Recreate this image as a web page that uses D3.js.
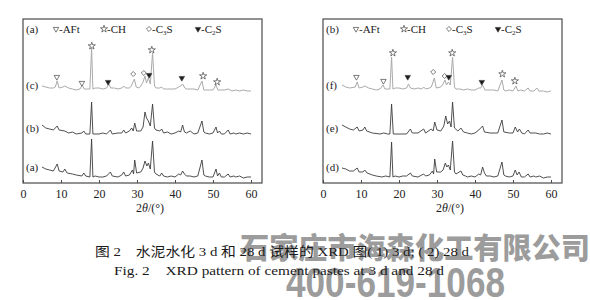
<!DOCTYPE html>
<meta charset="utf-8">

<!-- Load d3.js -->
<script src="https://d3js.org/d3.v7.min.js"></script>
<style>
  body { margin: 0; background: #fff; }
</style>

<!-- Create a div where the graph will take place -->
<div id="my_dataviz"></div>

<script>

// ---- values: [2theta (deg), stacked intensity (a.u.)] ----
// 3 d panel
var curveA = [[5,16],[6,14],[7,13],[8,12],[9,19],[9.5,12],[10.5,11],[11,14],[11.6,10],[13,9],[14,8],[15.5,7],[16,10],[16.5,7],[17.6,6],[18.05,44],[18.4,6],[19,7],[20,6],[21,6],[22,7],[23,11],[23.5,7],[25,6],[26,8],[26.5,11],[27,7],[28,8],[28.8,13],[29.1,9],[29.4,23],[29.9,10],[31,11],[31.6,15],[32.1,22],[32.6,17],[33,20],[33.5,14],[34.1,42],[34.6,11],[35,9],[36,7],[36.5,10],[37,7],[38,6],[39,7],[40,6],[41,9],[41.5,8],[42,12],[42.5,9],[43,7],[44,7],[45,6],[46,7],[47.1,23],[47.6,8],[48,7],[49,6],[50,6],[50.8,14],[51.2,7],[51.7,10],[52.2,6],[53,6],[54,9],[54.5,6],[55.5,7],[56,6],[57,7],[58,5],[59,6],[60,6]];
var curveB = [[5,58],[6,55],[7,54],[8,53],[9,57],[9.5,53],[11,52],[12,50],[13,51],[14,49],[15.5,50],[16,52],[16.5,49],[17.6,49],[18.05,81],[18.4,49],[20,49],[21,50],[22,49],[23,53],[23.5,49],[25,50],[26,50],[26.5,53],[27,50],[28,52],[28.6,55],[29,52],[29.4,60],[29.9,52],[31,52],[31.6,56],[32.1,71],[32.5,65],[33,62],[33.5,57],[34.1,79],[34.6,55],[35,53],[36,52],[36.5,54],[37,50],[38,51],[39,49],[40,50],[41,52],[41.5,51],[42,58],[42.5,51],[43,50],[44,52],[45,49],[46,50],[47.1,62],[47.6,51],[48,50],[49,49],[50,50],[50.8,56],[51.2,50],[51.7,52],[52.2,49],[53,49],[54,53],[54.5,49],[55.5,50],[56,49],[57,50],[58,49],[59,50],[60,49]];
var curveC = [[5,97],[6,96],[7,95],[8,95],[8.5,96],[9,102],[9.5,95],[10.5,96],[11,97],[12,95],[13,94],[14,93],[15,94],[15.6,98],[16.1,94],[17,94],[17.6,94],[18.05,135],[18.4,94],[19,95],[20,95],[21,94],[22,95],[22.6,99],[23.1,95],[24,95],[25,94],[26,95],[26.5,97],[27,95],[28,95],[28.5,97],[29.3,104],[29.8,96],[30.5,95],[31,97],[31.6,101],[32.1,107],[32.5,100],[33,105],[33.5,99],[34.1,130],[34.6,97],[35,95],[36,95],[36.5,96],[37,94],[38,94],[39,94],[40,94],[41,96],[41.5,97],[42,99],[42.6,95],[43,94],[44,94],[45,94],[46,93],[47.1,102],[47.6,93],[48,93],[49,93],[50,93],[50.8,98],[51.3,93],[52,93],[53,93],[54,94],[55,92],[56,93],[57,92],[58,93],[59,92],[60,92]];
// 28 d panel
var curveD = [[5,15],[6,14],[7,12],[8,12],[9,15],[9.5,11],[10.5,11],[11,13],[11.6,10],[13,8],[14,7],[15.5,6],[16.5,7],[17.6,6],[18.05,41],[18.4,6],[19,7],[20,6],[21,7],[22,7],[23,10],[23.5,7],[25,6],[26,8],[26.5,9],[27,7],[28,8],[28.8,12],[29.1,9],[29.4,24],[29.9,11],[31,11],[31.6,13],[32.2,20],[32.6,16],[33,18],[33.5,13],[34.1,42],[34.6,11],[35,9],[36.3,12],[36.8,8],[37.5,7],[38,6],[39,7],[40,6],[41,9],[41.5,8],[42,16],[42.5,10],[43,7],[44,7],[45,6],[46,7],[47.1,21],[47.6,8],[48,7],[49,6],[50,7],[50.6,13],[51.1,8],[51.6,11],[52.2,6],[53,6],[54,9],[54.5,6],[55.5,7],[56,6],[57,7],[58,5],[59,6],[60,6]];
var curveE = [[5,58],[6,56],[7,54],[8,53],[9,56],[9.5,52],[10.5,53],[11,56],[11.5,52],[13,50],[15,49],[16,50],[17,49],[17.6,49],[18.05,79],[18.5,49],[20,49],[22,49],[23,54],[23.5,50],[25,50],[26.5,54],[27,50],[28.5,54],[29,52],[29.4,61],[30,53],[31,52],[31.8,57],[32.3,67],[32.8,59],[33.3,62],[33.7,56],[34.1,81],[34.6,55],[35.5,52],[36.3,55],[37,51],[38,50],[39,49],[40,50],[41,53],[42,57],[42.5,51],[44,50],[46,50],[47.1,63],[47.6,51],[49,50],[50,50],[50.6,56],[51.2,51],[51.7,54],[52.3,50],[53,49],[54,53],[54.5,50],[56,50],[57,49],[58,49],[59,50],[60,49]];
var curveF = [[5,98],[6,96],[7,95],[8.5,96],[9,101],[9.5,95],[10.5,96],[11,97],[12,95],[13,94],[14,93],[15,94],[15.8,98],[16.3,94],[17,94],[17.6,94],[18.05,126],[18.4,94],[19,95],[20,95],[21,94],[22,95],[22.5,99],[23,95],[24,94],[25,95],[26,94],[26.5,96],[27,94],[28,95],[28.5,96],[29.3,105],[29.8,95],[31,96],[31.6,99],[32.1,103],[32.5,98],[33,101],[33.5,98],[34.1,126],[34.6,96],[35,94],[36,94],[37,93],[38,94],[39,93],[40,93],[41,95],[41.5,95],[42,98],[42.6,93],[43,93],[44,93],[45,93],[46,92],[47.1,103],[47.6,93],[48,92],[49,93],[50,92],[50.8,97],[51.3,92],[52,93],[53,92],[54,95],[54.5,92],[55.5,92],[56.3,95],[56.8,92],[58,92],[59,91],[60,92]];

// phase markers: [phase, 2theta, intensity]
var markersLeft = [["aft",8.9,106],["aft",15.5,100],["ch",18.1,137],["c2s",22.4,101],["c3s",29,109],["c3s",31.8,110],["c2s",33.2,108],["ch",33.9,133],["c2s",41.8,105],["ch",47.4,107],["ch",51.1,101]];
var markersRight = [["aft",8.8,106],["aft",15.9,102],["ch",18.4,130],["c2s",22.3,106],["c3s",29,111],["c3s",32,107],["c2s",33.1,106],["ch",34,130],["c2s",41.8,101],["ch",47.2,109],["ch",50.5,102]];

var xTicks = [0, 10, 20, 30, 40, 50, 60];
var legendPhases = ["aft", "ch", "c3s", "c2s"];
var legendNames = [["-AFt", ""], ["-CH", ""], ["-C", "3"], ["-C", "2"]];
var panelTags = ["(a)", "(b)"];
var curveNamesLeft = ["(a)", "(b)", "(c)"];
var curveNamesRight = ["(d)", "(e)", "(f)"];

// ---- layout ----
var W = 590, H = 300;
var pw = 239, ph = 164;

var svg = d3.select("#my_dataviz")
  .append("svg")
    .attr("width", W)
    .attr("height", H)
    .style("font-family", "'Liberation Serif', 'Times New Roman', serif")

svg.append("rect").attr("width", W).attr("height", H).style("fill", "white")

var x = d3.scaleLinear().domain([0, 62.9]).range([0, pw])
var y = d3.scaleLinear().domain([0, 164]).range([ph, 0])

var line = d3.line()
  .x(function(d) { return x(d[0]) })
  .y(function(d) { return y(d[1]) })

function symbolFor(type, g) {
  var t = type == "ch" ? d3.symbolStar : (type == "c3s" ? d3.symbolDiamond2 : d3.symbolTriangle)
  var s = type == "ch" ? 16 : (type == "c3s" ? 16 : 13)
  var p = g.append("path")
    .attr("d", d3.symbol().type(t).size(s)())
    .style("stroke", "#444")
    .style("stroke-width", 0.7)
    .style("fill", type == "c2s" ? "#1a1a1a" : "white")
  if (type == "aft" || type == "c2s") p.attr("transform", "rotate(180)")
  return p
}

function drawPanel(left, curves, names, markers, tag) {
  var g = svg.append("g").attr("transform", "translate(" + left + ",19)")

  // curves
  curves.forEach(function(c, i) {
    g.append("path")
      .datum(c)
      .attr("d", line)
      .style("fill", "none")
      .style("stroke", i == 2 ? "#aaaaaa" : "#3c3c3c")
      .style("stroke-width", i == 2 ? 1 : 0.9)
      .style("stroke-linejoin", "round")
  })

  // curve labels
  var labelY = [148, 109, 66]
  names.forEach(function(n, i) {
    g.append("text")
      .attr("x", 3).attr("y", labelY[i] + 4)
      .style("font-size", "11px").style("fill", "#222")
      .text(n)
  })

  // phase markers
  markers.forEach(function(m) {
    var mg = g.append("g").attr("transform", "translate(" + x(m[1]) + "," + y(m[2]) + ")")
    symbolFor(m[0], mg)
  })

  // frame
  g.append("rect")
    .attr("width", pw).attr("height", ph)
    .style("fill", "none").style("stroke", "#4a4a4a").style("stroke-width", 1.2)

  // X axis ticks (inside) and labels
  var ax = g.append("g").attr("transform", "translate(0," + ph + ")")
    .call(d3.axisBottom(x).tickValues(xTicks).tickSizeInner(-3).tickSizeOuter(0).tickPadding(6))
  ax.select(".domain").remove()
  ax.selectAll(".tick line").attr("stroke", "#4a4a4a")
  ax.selectAll(".tick text")
    .style("font-family", "'Liberation Serif', serif")
    .style("font-size", "12px").style("fill", "#222")

  // X axis label
  var lab = g.append("text")
    .attr("x", 127).attr("y", ph + 29)
    .attr("text-anchor", "middle")
    .style("font-size", "12px").style("fill", "#222")
  lab.append("tspan").text("2")
  lab.append("tspan").style("font-style", "italic").text("θ")
  lab.append("tspan").text("/(°)")

  // legend
  g.append("text").attr("x", 3).attr("y", 14)
    .style("font-size", "11px").style("fill", "#222").text(tag)
  var legX = [33, 81, 126, 175]
  legendPhases.forEach(function(p, i) {
    var lg = g.append("g").attr("transform", "translate(" + legX[i] + ",10)")
    symbolFor(p, lg)
    var t = lg.append("text").attr("x", 3).attr("y", 4)
      .style("font-size", "11px").style("fill", "#222")
    t.append("tspan").text(legendNames[i][0])
    if (legendNames[i][1]) {
      t.append("tspan").attr("dy", 2).style("font-size", "7px").text(legendNames[i][1])
      t.append("tspan").attr("dy", -2).text("S")
    }
  })
}

drawPanel(23, [curveA, curveB, curveC], curveNamesLeft, markersLeft, panelTags[0])
drawPanel(323, [curveD, curveE, curveF], curveNamesRight, markersRight, panelTags[1])

// watermark
svg.append("text")
  .attr("x", 240).attr("y", 259)
  .attr("textLength", 350).attr("lengthAdjust", "spacingAndGlyphs")
  .style("font-family", "'Noto Sans CJK SC', sans-serif")
  .style("font-weight", "900").style("font-size", "29px")
  .style("fill", "#9c9c9c")
  .text("石家庄市海森化工有限公司")
svg.append("text")
  .attr("x", 286).attr("y", 297)
  .attr("textLength", 219).attr("lengthAdjust", "spacingAndGlyphs")
  .style("font-family", "'Liberation Sans', sans-serif")
  .style("font-weight", "bold").style("font-size", "42px")
  .style("fill", "#9c9c9c")
  .text("400-619-1068")

// captions
svg.append("text")
  .attr("x", 95).attr("y", 256)
  .attr("textLength", 374).attr("lengthAdjust", "spacingAndGlyphs")
  .style("font-family", "'Liberation Serif', 'Noto Sans CJK SC', serif")
  .style("font-size", "13px").style("fill", "#1a1a1a")
  .text("图 2　水泥水化 3 d 和 28 d 试样的 XRD 图( 1) 3 d; ( 2) 28 d")
svg.append("text")
  .attr("x", 114).attr("y", 275)
  .attr("textLength", 330).attr("lengthAdjust", "spacingAndGlyphs")
  .style("font-size", "12.5px").style("fill", "#1a1a1a")
  .text("Fig. 2　XRD pattern of cement pastes at 3 d and 28 d")

</script>
